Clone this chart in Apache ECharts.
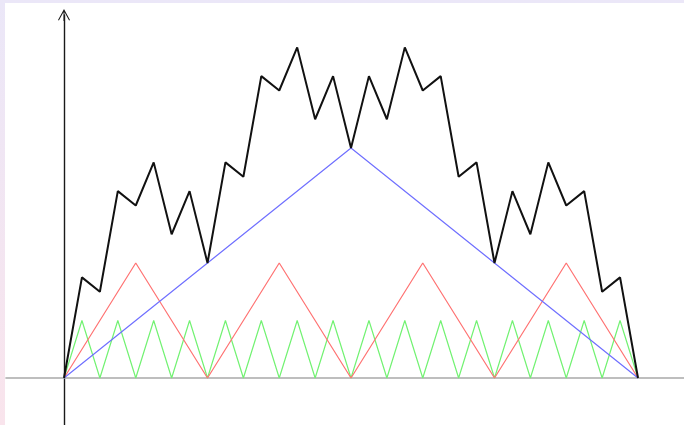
<!DOCTYPE html>
<html>
<head>
<meta charset="utf-8">
<script src="https://cdn.jsdelivr.net/npm/echarts@6/dist/echarts.min.js"></script>
<style>
  html, body { margin: 0; padding: 0; }
  #frame {
    position: relative; width: 684px; height: 425px; overflow: hidden;
    background: linear-gradient(to bottom, #ebe7f8, #f9e4ec);
  }
  #chart {
    position: absolute; left: 5px; top: 3px; width: 679px; height: 422px;
    background: #ffffff;
  }
</style>
</head>
<body>
<div id="frame"><div id="chart"></div></div>
<script>
// Sample positions at steps of 1/32 over [0, 1]
const xs32 = [0, 0.03125, 0.0625, 0.09375, 0.125, 0.15625, 0.1875, 0.21875,
  0.25, 0.28125, 0.3125, 0.34375, 0.375, 0.40625, 0.4375, 0.46875,
  0.5, 0.53125, 0.5625, 0.59375, 0.625, 0.65625, 0.6875, 0.71875,
  0.75, 0.78125, 0.8125, 0.84375, 0.875, 0.90625, 0.9375, 0.96875, 1];

// Tent of period 1 (blue)
const blueX = [0, 0.5, 1];
const blueY = [0, 1, 0];

// Tents of period 1/4 (red)
const redX = [0, 0.125, 0.25, 0.375, 0.5, 0.625, 0.75, 0.875, 1];
const redY = [0, 0.5, 0, 0.5, 0, 0.5, 0, 0.5, 0];

// Tents of period 1/16 (green)
const greenY = [0, 0.25, 0, 0.25, 0, 0.25, 0, 0.25, 0, 0.25, 0, 0.25, 0, 0.25, 0, 0.25,
  0, 0.25, 0, 0.25, 0, 0.25, 0, 0.25, 0, 0.25, 0, 0.25, 0, 0.25, 0, 0.25, 0];

// Sum of the three layers (black)
const sumY = [0, 0.4375, 0.375, 0.8125, 0.75, 0.9375, 0.625, 0.8125,
  0.5, 0.9375, 0.875, 1.3125, 1.25, 1.4375, 1.125, 1.3125,
  1, 1.3125, 1.125, 1.4375, 1.25, 1.3125, 0.875, 0.9375,
  0.5, 0.8125, 0.625, 0.9375, 0.75, 0.8125, 0.375, 0.4375, 0];

const pairs = (xs, ys) => xs.map((x, i) => [x, ys[i]]);

const chart = echarts.init(document.getElementById('chart'), null, { renderer: 'canvas' });

const thin = (color) => ({ color: color, width: 1.2 });

chart.setOption({
  animation: false,
  grid: { left: 1, right: 0, top: 12, bottom: 0 },
  xAxis: {
    type: 'value', min: -0.10105, max: 1.08014,
    axisLine: { onZero: true, lineStyle: { color: '#a9a9a9', width: 1.6 } },
    axisTick: { show: false }, axisLabel: { show: false }, splitLine: { show: false }
  },
  yAxis: {
    type: 'value', min: -0.20435, max: 1.57826,
    axisLine: {
      onZero: true,
      lineStyle: { color: '#1a1a1a', width: 1.4 },
      symbol: ['none', 'path://M6,0 L12,11 L11.1,11.5 L6,2.2 L0.9,11.5 L0,11 Z M5.5,1 L6.5,1 L6.5,12 L5.5,12 Z'],
      symbolSize: [13, 12]
    },
    axisTick: { show: false }, axisLabel: { show: false }, splitLine: { show: false }
  },
  series: [
    { type: 'line', data: pairs(xs32, greenY), showSymbol: false, lineStyle: thin('#72f272'), z: 2 },
    { type: 'line', data: pairs(redX, redY), showSymbol: false, lineStyle: thin('#ff7272'), z: 3 },
    { type: 'line', data: pairs(blueX, blueY), showSymbol: false, lineStyle: thin('#7070ff'), z: 4 },
    { type: 'line', data: pairs(xs32, sumY), showSymbol: false, lineStyle: { color: '#111111', width: 2 }, z: 5 }
  ]
});
</script>
</body>
</html>
